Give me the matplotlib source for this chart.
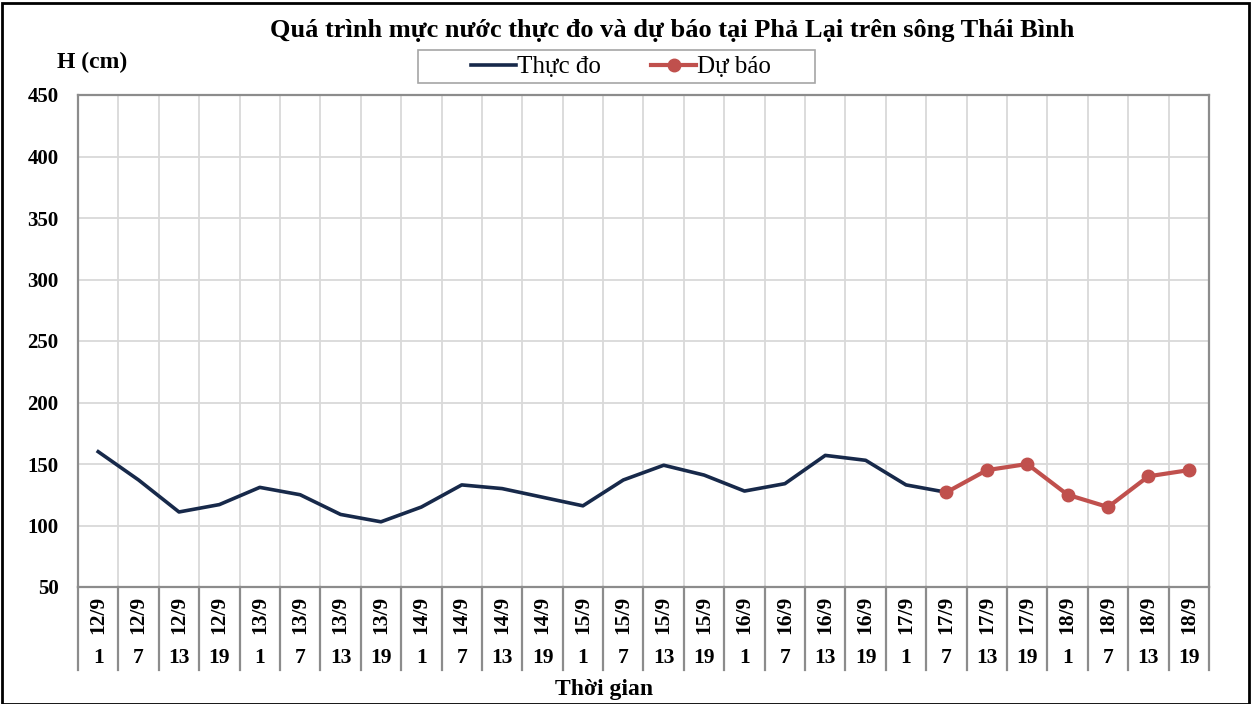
import matplotlib
matplotlib.use("Agg")
import matplotlib.pyplot as plt
from matplotlib.patches import Rectangle
import matplotlib.transforms as mtransforms

plt.rcParams['font.family'] = ['Liberation Serif', 'DejaVu Serif']

# du lieu
days = ["12/9", "13/9", "14/9", "15/9", "16/9", "17/9", "18/9"]
hours = ["1", "7", "13", "19"]
date_labels = [d for d in days for h in hours]
hour_labels = [h for d in days for h in hours]

thuc_do = [160, 137, 111, 117, 131, 125, 109, 103, 115, 133, 130, 123, 116,
           137, 149, 141, 128, 134, 157, 153, 133, 127]
du_bao = [127, 145, 150, 125, 115, 140, 145]

yticks = [50, 100, 150, 200, 250, 300, 350, 400, 450]

n = len(date_labels)
x_obs = list(range(len(thuc_do)))
x_fc = list(range(n - len(du_bao), n))

fig = plt.figure(figsize=(12.54, 7.04), dpi=100)
ax = fig.add_axes([78 / 1254, 1 - 587 / 704, (1209 - 78) / 1254, (587 - 95) / 704])

ax.plot(x_obs, thuc_do, color='#17294a', lw=2.6, label='Thực đo', zorder=3)
ax.plot(x_fc, du_bao, color='#c0504d', lw=3, marker='o', markersize=9,
        label='Dự báo', zorder=4)

ax.set_xlim(-0.5, n - 0.5)
ax.set_ylim(50, 450)
ax.set_yticks(yticks)
ax.set_yticklabels([str(v) for v in yticks], fontweight='bold', fontsize=15)
ax.tick_params(axis='y', length=0, pad=14)
ax.set_xticks([])

# luoi
for v in yticks:
    ax.axhline(v, color='#d9d9d9', lw=1.3, zorder=1)
for i in range(n - 1):
    ax.axvline(i + 0.5, color='#d9d9d9', lw=1.3, zorder=1)

for s in ax.spines.values():
    s.set_color('#8c8c8c')
    s.set_linewidth(1.6)

# bang nhan truc x
trans = mtransforms.blended_transform_factory(ax.transData, ax.transAxes)
tbl_bottom = -(670 - 587) / (587 - 95)
for i in range(n + 1):
    ax.plot([i - 0.5, i - 0.5], [0, tbl_bottom], color='#8c8c8c', lw=1.6,
            transform=trans, clip_on=False)
for i in range(n):
    ax.text(i, -(615 - 587) / (587 - 95), date_labels[i], transform=trans,
            rotation=90, ha='center', va='center', fontsize=15.5, fontweight='bold')
    ax.text(i, -(658 - 587) / (587 - 95), hour_labels[i], transform=trans,
            ha='center', va='center', fontsize=15.5, fontweight='bold')

fig.text(672 / 1254, 1 - 30 / 704, 'Quá trình mực nước thực đo và dự báo tại Phả Lại trên sông Thái Bình',
         ha='center', va='center', fontsize=19, fontweight='bold')
fig.text(57 / 1254, 1 - 62 / 704, 'H (cm)', ha='left', va='center',
         fontsize=17, fontweight='bold')
fig.text(604 / 1254, 1 - 689 / 704, 'Thời gian', ha='center', va='center',
         fontsize=17, fontweight='bold')

# khung chu thich
fig.patches.append(Rectangle((418 / 1254, 1 - 83 / 704), 397 / 1254, 33 / 704,
                             transform=fig.transFigure, fill=False,
                             edgecolor='#a6a6a6', lw=1.2))
fig.legend(loc='center', bbox_to_anchor=(621 / 1254, 1 - 67 / 704), ncol=2,
           frameon=False, fontsize=18, handlelength=1.8, handletextpad=0.05,
           columnspacing=2.0)

# vien ngoai
fig.patches.append(Rectangle((2 / 1254, 0), 1247 / 1254, 1 - 3 / 704,
                             transform=fig.transFigure, fill=False,
                             edgecolor='black', lw=2))

fig.savefig('out.png', dpi=100)
